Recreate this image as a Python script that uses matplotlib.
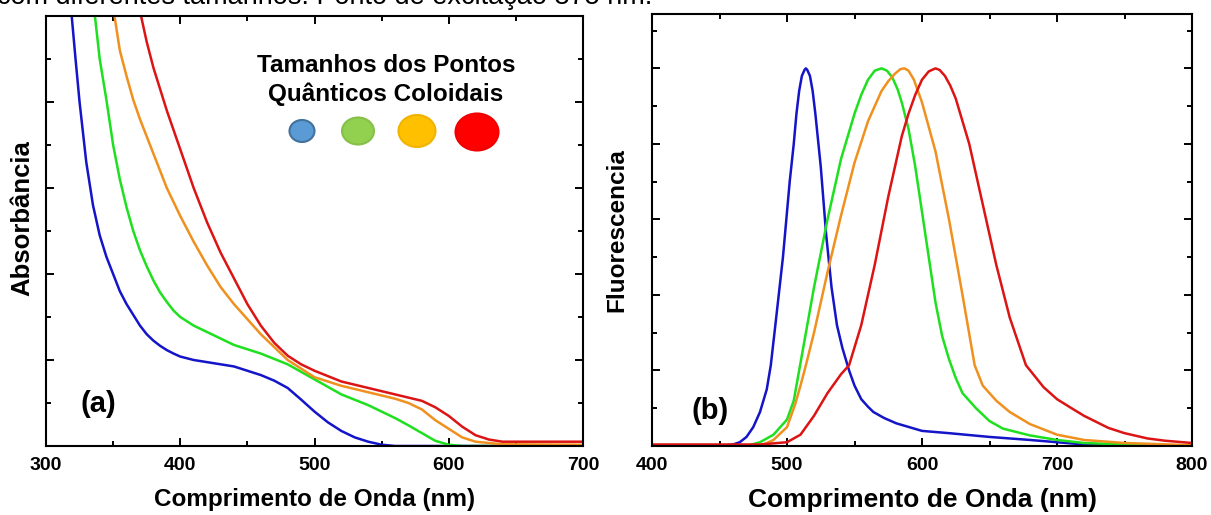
import matplotlib
matplotlib.use("Agg")
import matplotlib.pyplot as plt
from matplotlib.patches import Ellipse
from matplotlib.ticker import MultipleLocator, NullFormatter

plt.rcParams['font.family'] = ['Liberation Sans', 'DejaVu Sans']
plt.rcParams['font.weight'] = 'bold'

# absorption spectra, wavelength (nm) vs absorbance (arb. units)
abs_blue_wl = [318, 322, 325, 330, 335, 340, 345, 350, 355, 360, 365, 370, 375, 380, 385, 390,
               395, 400, 410, 420, 440, 460, 470, 480, 490, 500, 510, 520, 530, 540, 550, 560, 700]
abs_blue = [10.4, 9.0, 8.0, 6.6, 5.6, 4.9, 4.4, 4.0, 3.6, 3.3, 3.05, 2.8, 2.6, 2.45, 2.33, 2.23,
            2.15, 2.08, 2.0, 1.95, 1.85, 1.65, 1.52, 1.35, 1.08, 0.8, 0.55, 0.35, 0.2, 0.1, 0.03,
            0.0, 0.0]

abs_green_wl = [335, 340, 345, 350, 355, 360, 365, 370, 375, 380, 385, 390, 395, 400, 410, 420,
                430, 440, 460, 480, 500, 520, 540, 560, 570, 580, 590, 600, 610, 700]
abs_green = [10.4, 9.0, 8.05, 7.0, 6.2, 5.55, 5.0, 4.55, 4.18, 3.85, 3.57, 3.35, 3.15, 3.0, 2.8,
             2.65, 2.5, 2.35, 2.15, 1.9, 1.55, 1.2, 0.95, 0.65, 0.48, 0.3, 0.12, 0.03, 0.0, 0.0]

abs_orange_wl = [349, 355, 360, 365, 370, 375, 380, 390, 400, 410, 420, 430, 440, 450, 460, 470,
                 480, 490, 500, 520, 540, 560, 570, 580, 590, 600, 610, 620, 640, 700]
abs_orange = [10.4, 9.2, 8.6, 8.05, 7.6, 7.2, 6.8, 6.0, 5.35, 4.75, 4.2, 3.7, 3.3, 2.95, 2.6, 2.3,
              2.0, 1.8, 1.6, 1.4, 1.25, 1.1, 1.0, 0.85, 0.6, 0.4, 0.2, 0.1, 0.04, 0.03]

abs_red_wl = [368, 375, 380, 390, 400, 410, 420, 430, 440, 450, 460, 470, 480, 490, 500,
              520, 540, 560, 580, 590, 600, 610, 620, 630, 640, 700]
abs_red = [10.4, 9.4, 8.8, 7.8, 6.9, 6.0, 5.2, 4.5, 3.9, 3.3, 2.8, 2.4, 2.1, 1.9, 1.75,
           1.5, 1.35, 1.2, 1.05, 0.9, 0.7, 0.45, 0.25, 0.15, 0.1, 0.1]

# emission spectra, wavelength (nm) vs normalised fluorescence
fl_blue_wl = [400, 450, 460, 465, 470, 475, 480, 485, 488, 492, 497, 502, 505, 507, 509, 511,
              513, 514, 515, 517, 519, 521, 525, 529, 533, 537, 541, 546, 550, 555, 560, 564,
              572, 581, 600, 620, 650, 680, 700, 720, 750, 800]
fl_blue = [0.0, 0.0, 0.02, 0.05, 0.12, 0.25, 0.45, 0.75, 1.07, 1.7, 2.5, 3.5, 4.0, 4.4, 4.7, 4.9,
           4.98, 5.0, 4.98, 4.9, 4.7, 4.4, 3.7, 2.8, 2.1, 1.6, 1.3, 1.0, 0.8, 0.62, 0.52, 0.45,
           0.37, 0.3, 0.2, 0.17, 0.12, 0.08, 0.05, 0.02, 0.0, 0.0]

fl_green_wl = [400, 470, 480, 490, 500, 505, 510, 515, 520, 530, 540, 550, 555, 560, 565, 570,
               574, 578, 582, 585, 590, 595, 600, 605, 610, 615, 620, 625, 630, 640, 650, 660,
               680, 700, 720, 750, 800]
fl_green = [0.0, 0.0, 0.05, 0.15, 0.35, 0.6, 1.1, 1.6, 2.1, 3.0, 3.8, 4.4, 4.65, 4.85, 4.97, 5.0,
            4.97, 4.88, 4.72, 4.55, 4.2, 3.7, 3.1, 2.5, 1.9, 1.45, 1.15, 0.9, 0.7, 0.5, 0.33,
            0.23, 0.14, 0.08, 0.04, 0.02, 0.0]

fl_orange_wl = [400, 480, 490, 500, 506, 510, 514, 520, 530, 540, 550, 560, 570, 575, 580, 584,
                587, 590, 594, 600, 610, 620, 630, 639, 645, 655, 665, 680, 700, 720, 750, 800]
fl_orange = [0.0, 0.0, 0.08, 0.25, 0.55, 0.8, 1.07, 1.5, 2.3, 3.05, 3.75, 4.3, 4.7, 4.83, 4.93,
             4.99, 5.0, 4.97, 4.85, 4.55, 3.9, 3.0, 2.0, 1.07, 0.8, 0.6, 0.45, 0.29, 0.15, 0.08,
             0.04, 0.01]

fl_red_wl = [400, 480, 500, 510, 520, 530, 540, 546, 555, 565, 575, 585, 590, 595, 600, 605,
             610, 613, 617, 621, 625, 635, 645, 655, 665, 677, 690, 700, 709, 720, 738, 750,
             767, 780, 800]
fl_red = [0.02, 0.02, 0.05, 0.15, 0.4, 0.7, 0.95, 1.07, 1.6, 2.4, 3.3, 4.1, 4.4, 4.65, 4.85, 4.96,
          5.0, 4.98, 4.9, 4.77, 4.6, 4.0, 3.2, 2.4, 1.7, 1.07, 0.78, 0.62, 0.52, 0.4, 0.24, 0.17,
          0.1, 0.07, 0.04]

c_blue = '#1414c8'
c_green = '#1fe01f'
c_orange = '#f0901e'
c_red = '#dc1414'

# dot sizes in the inset legend (px): centre x, centre y, width, height
dot_x = [302, 358, 417, 477]
dot_y = [131, 131, 131, 132]
dot_w = [25, 32, 37, 43]
dot_h = [22, 27, 32, 37]
dot_face = ['#5b9bd5', '#92d050', '#ffc000', '#ff0000']
dot_edge = ['#41719c', '#86c04a', '#f0b400', '#f00000']

W, H = 1211, 515
fig = plt.figure(figsize=(W / 100, H / 100), dpi=100)

ax1 = fig.add_axes([46 / W, 1 - 446 / H, 537 / W, 430 / H])
ax2 = fig.add_axes([652 / W, 1 - 446 / H, 540 / W, 432 / H])

lw = 1.8
ax1.plot(abs_blue_wl, abs_blue, color=c_blue, lw=lw)
ax1.plot(abs_green_wl, abs_green, color=c_green, lw=lw)
ax1.plot(abs_orange_wl, abs_orange, color=c_orange, lw=lw)
ax1.plot(abs_red_wl, abs_red, color=c_red, lw=lw)

ax2.plot(fl_blue_wl, fl_blue, color=c_blue, lw=lw)
ax2.plot(fl_green_wl, fl_green, color=c_green, lw=lw)
ax2.plot(fl_orange_wl, fl_orange, color=c_orange, lw=lw)
ax2.plot(fl_red_wl, fl_red, color=c_red, lw=lw)

ax1.set_xlim(300, 700)
ax1.set_ylim(0, 10)
ax2.set_xlim(400, 800)
ax2.set_ylim(0, 5.72)

for ax in (ax1, ax2):
    ax.xaxis.set_major_locator(MultipleLocator(100))
    ax.xaxis.set_minor_locator(MultipleLocator(50))
    ax.yaxis.set_major_formatter(NullFormatter())
    ax.tick_params(which='both', direction='in', top=True, right=True, width=1.4,
                   labelsize=14, pad=8)
    ax.tick_params(which='major', length=6)
    ax.tick_params(which='minor', length=3.5)
    for s in ax.spines.values():
        s.set_linewidth(1.5)
    for lab in ax.get_xticklabels():
        lab.set_fontweight('bold')

ax1.yaxis.set_major_locator(MultipleLocator(2))
ax1.yaxis.set_minor_locator(MultipleLocator(1))
ax2.yaxis.set_major_locator(MultipleLocator(1))
ax2.yaxis.set_minor_locator(MultipleLocator(0.5))

ax1.set_xlabel('Comprimento de Onda (nm)', fontsize=17.5, fontweight='bold', labelpad=10)
ax2.set_xlabel('Comprimento de Onda (nm)', fontsize=19, fontweight='bold', labelpad=10)
ax1.set_ylabel('Absorbância', fontsize=18.5, fontweight='bold')
ax1.yaxis.set_label_coords(-0.022, 0.53)
ax2.set_ylabel('Fluorescencia', fontsize=17.5, fontweight='bold', labelpad=9)

ax1.text(0.097, 0.098, '(a)', transform=ax1.transAxes, fontsize=21, fontweight='bold',
         ha='center', va='center')
ax2.text(0.107, 0.082, '(b)', transform=ax2.transAxes, fontsize=21, fontweight='bold',
         ha='center', va='center')

ax1.text(0.633, 0.886, 'Tamanhos dos Pontos', transform=ax1.transAxes, fontsize=17.5,
         fontweight='bold', ha='center', va='center')
ax1.text(0.633, 0.819, 'Quânticos Coloidais', transform=ax1.transAxes, fontsize=17.5,
         fontweight='bold', ha='center', va='center')

for x, y, w, h, fc, ec in zip(dot_x, dot_y, dot_w, dot_h, dot_face, dot_edge):
    fig.add_artist(Ellipse((x / W, 1 - y / H), w / W, h / H, transform=fig.transFigure,
                           facecolor=fc, edgecolor=ec, lw=1.5))

# caption line running off the top edge
fig.text(-3 / W, 1 - 4 / H, 'com diferentes tamanhos. Ponto de excitação 375 nm.',
         fontsize=19.5, fontweight='normal', ha='left', va='baseline')

fig.savefig('out.png', dpi=100)
